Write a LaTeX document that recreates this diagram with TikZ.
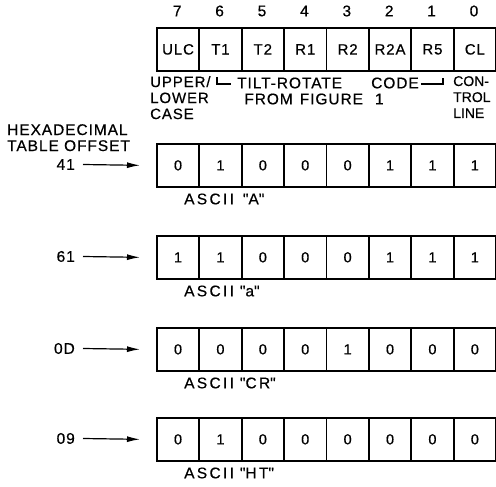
\documentclass[tikz,border=0pt]{standalone}
\usepackage{fontspec}
\setmainfont{Liberation Sans}[LetterSpace=6,FakeBold=0.5]
\usetikzlibrary{arrows.meta}
\tikzset{
  cell/.style={draw, line width=1.7pt, minimum width=42.4pt, minimum height=43pt,
    inner sep=0pt, anchor=north west, font=\fontsize{14.5}{15}\selectfont},
  head/.style={draw, line width=1.7pt, minimum width=42.4pt, minimum height=43pt,
    inner sep=0pt, anchor=north west, font=\fontsize{15}{16}\selectfont},
  lbl/.style={inner sep=0pt, font=\fontsize{15.5}{16}\selectfont},
  asc/.style={lbl, anchor=west, font=\fontsize{15.5}{16}\selectfont\addfontfeature{LetterSpace=15}},
  ptr/.style={-{Latex[length=13pt,width=6pt]}, line width=1.2pt},
  brk/.style={line width=1.2pt},
}
\begin{document}
\begin{tikzpicture}[x=1pt,y=-1pt]
\useasboundingbox (0,0) rectangle (496,487);
% bit numbers and field names
\foreach \n/\t [count=\i from 0] in {7/ULC,6/T1,5/T2,4/R1,3/R2,2/R2A,1/R5,0/CL}{
  \node[lbl] (b\n) at ({156+42.4*(\i+0.5)},11) {\n};
  \node[head] (f\n) at ({156+42.4*\i},27) {\t};
}
% descriptions
\node[lbl, align=left, anchor=north west, font=\fontsize{15}{16}\selectfont] (ulc) at (150,76) {UPPER/\\LOWER\\CASE};
\node[lbl, anchor=west] (trA) at (237,83) {TILT-ROTATE};
\node[lbl, anchor=west] (trB) at (371,83) {CODE};
\node[lbl] (fig) at (314,99) {FROM\hspace{7pt}FIGURE\hspace{12pt}1};
\node[lbl, align=left, anchor=north west, font=\fontsize{14}{16}\selectfont\addfontfeature{LetterSpace=0}] (cl) at (453,76) {CON-\\TROL\\LINE};
\draw[brk] ([shift={(-20pt,6pt)}]trA.west) -- ([shift={(-20pt,-1pt)}]trA.west) -- ([shift={(-6pt,-1pt)}]trA.west);
\draw[brk] ([shift={(2pt,-1pt)}]trB.east) -- ([shift={(24pt,-1pt)}]trB.east) -- ([shift={(24pt,5pt)}]trB.east);
% left caption
\node[lbl, align=left, anchor=north west] (hex) at (7,124) {HEXADECIMAL\\TABLE OFFSET};
% rows
\foreach \r/\top/\bits/\name/\ascii in {
   A/143/{0,1,0,0,0,1,1,1}/41/{ASCII\hspace{9pt}\textquotedbl A\textquotedbl},
   B/235/{1,1,0,0,0,1,1,1}/61/{ASCII\hspace{6pt}\textquotedbl a\textquotedbl},
   C/327/{0,0,0,0,1,0,0,0}/0D/{ASCII\hspace{6pt}\textquotedbl CR\textquotedbl},
   D/417/{0,1,0,0,0,0,0,0}/09/{ASCII\hspace{6pt}\textquotedbl HT\textquotedbl}}{
  \foreach \b [count=\i from 0] in \bits {
    \node[cell] (\r\i) at ({156+42.4*\i},\top) {\b};
  }
  \node[asc] (\r l) at (184,\top+56) {\ascii};
  \node[lbl, anchor=east] (\r h) at (75,\top+21.5) {\name};
  \draw[ptr] ([xshift=8pt]\r h.east) -- ([xshift=-16pt]\r0.west);
}
\end{tikzpicture}
\end{document}
